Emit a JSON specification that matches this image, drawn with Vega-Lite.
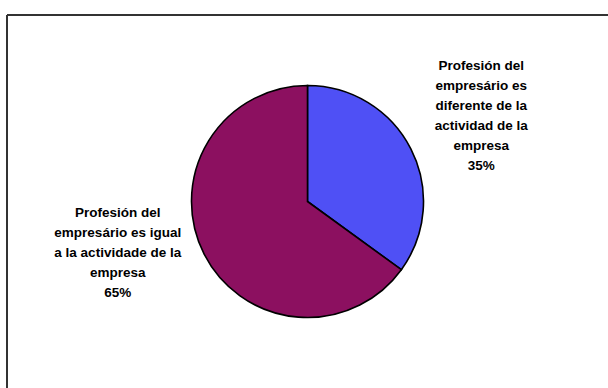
{
  "$schema": "https://vega.github.io/schema/vega-lite/v6.json",
  "width": 601,
  "height": 373,
  "autosize": "none",
  "padding": {"left": 7, "top": 15, "right": 0, "bottom": 0},
  "background": "white",
  "view": {"stroke": "#333333", "strokeWidth": 2, "strokeDash": [601, 974, 373, 0]},
  "data": {
    "values": [
      {"categoria": "Profesión del empresário es diferente de la actividad de la empresa", "valor": 35, "etiqueta": "Profesión del\nempresário es\ndiferente de la\nactividad de la\nempresa\n35%"},
      {"categoria": "Profesión del empresário es igual a la actividade de la empresa", "valor": 65, "etiqueta": "Profesión del\nempresário es igual\na la actividade de la\nempresa\n65%"}
    ]
  },
  "layer": [
    {
      "mark": {"type": "arc", "outerRadius": 116, "stroke": "#000000", "strokeWidth": 1.6},
      "encoding": {
        "theta": {"field": "valor", "type": "quantitative", "stack": true},
        "color": {
          "field": "categoria",
          "type": "nominal",
          "scale": {
            "domain": ["Profesión del empresário es diferente de la actividad de la empresa", "Profesión del empresário es igual a la actividade de la empresa"],
            "range": ["#4f50f5", "#8c1060"]
          },
          "legend": null
        }
      }
    },
    {
      "mark": {"type": "text", "radius": 195, "dy": -47, "lineBreak": "\n", "lineHeight": 20, "font": "Liberation Sans", "fontSize": 13.5, "fontWeight": "bold", "color": "#000000", "align": "center", "baseline": "middle"},
      "encoding": {
        "theta": {"field": "valor", "type": "quantitative", "stack": true},
        "detail": {"field": "categoria", "type": "nominal"},
        "text": {"condition": {"test": "datum.valor == 35", "field": "etiqueta"}, "value": ""}
      }
    },
    {
      "mark": {"type": "text", "radius": 195, "dx": -16, "dy": -77, "lineBreak": "\n", "lineHeight": 20, "font": "Liberation Sans", "fontSize": 13.5, "fontWeight": "bold", "color": "#000000", "align": "center", "baseline": "middle"},
      "encoding": {
        "theta": {"field": "valor", "type": "quantitative", "stack": true},
        "detail": {"field": "categoria", "type": "nominal"},
        "text": {"condition": {"test": "datum.valor == 65", "field": "etiqueta"}, "value": ""}
      }
    }
  ]
}
